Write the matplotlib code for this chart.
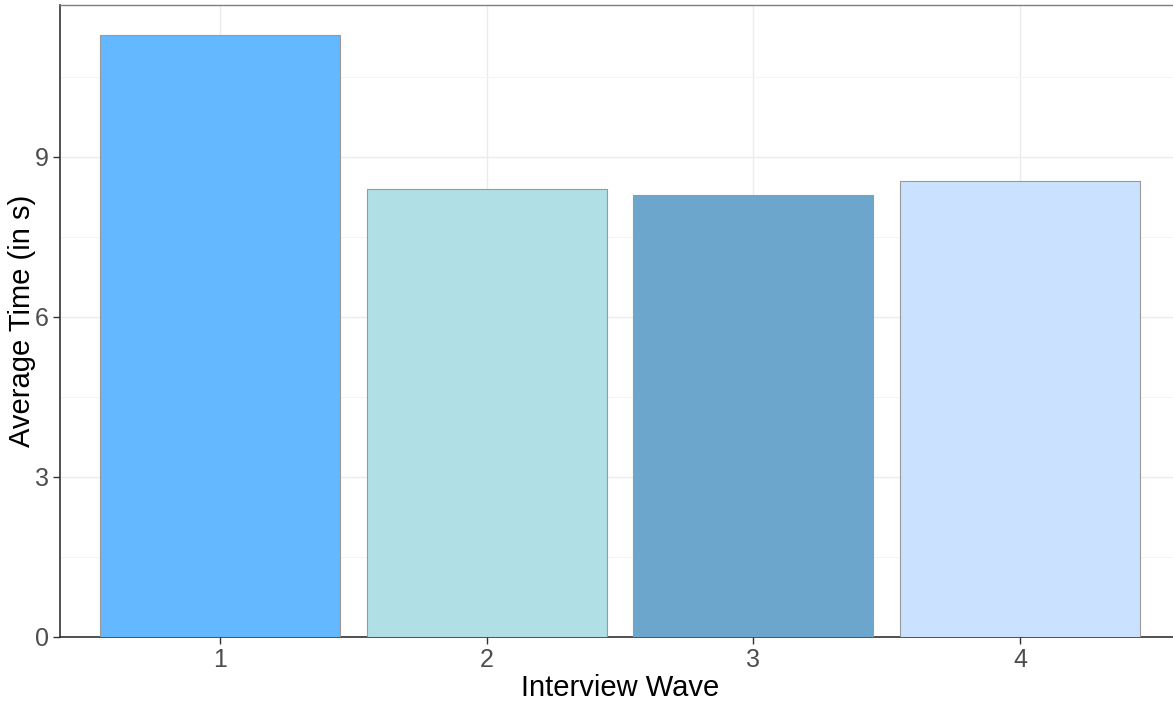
import matplotlib.pyplot as plt
from matplotlib.ticker import MultipleLocator

plt.rcParams["font.family"] = ["Liberation Sans", "DejaVu Sans"]

waves = ["1", "2", "3", "4"]
avg_time = [11.29, 8.40, 8.29, 8.55]
bar_colors = ["#63B8FF", "#B0E0E6", "#6CA6CD", "#CAE1FF"]

fig = plt.figure(figsize=(11.73, 7.01), dpi=100)
# panel runs slightly past the right edge of the picture
ax = fig.add_axes([60 / 1173, 64 / 701, 1120 / 1173, 632 / 701])

x = list(range(1, len(waves) + 1))
ax.bar(x, avg_time, width=0.9, color=bar_colors, edgecolor="#999999",
       linewidth=0.8, zorder=3)

ax.set_xlim(0.4, 4.6)
ax.set_ylim(0, 11.85)
ax.set_xticks(x)
ax.set_xticklabels(waves)
ax.yaxis.set_major_locator(MultipleLocator(3))
ax.yaxis.set_minor_locator(MultipleLocator(1.5))

ax.grid(which="major", color="#EBEBEB", linewidth=1.0, zorder=0)
ax.grid(which="minor", axis="y", color="#F4F4F4", linewidth=0.7, zorder=0)
ax.set_axisbelow(True)

for side in ["top", "right"]:
    ax.spines[side].set_color("#7F7F7F")
    ax.spines[side].set_linewidth(1.0)
for side in ["left", "bottom"]:
    ax.spines[side].set_color("#333333")
    ax.spines[side].set_linewidth(1.2)

ax.tick_params(axis="both", which="major", length=5, width=1.0,
               color="#333333", labelcolor="#4D4D4D", labelsize=18, pad=3)
ax.tick_params(axis="y", which="minor", length=0)

ax.set_xlabel("Interview Wave", fontsize=21, labelpad=1)
ax.set_ylabel("Average Time (in s)", fontsize=21, labelpad=-1)

fig.savefig("out.png", dpi=100)
